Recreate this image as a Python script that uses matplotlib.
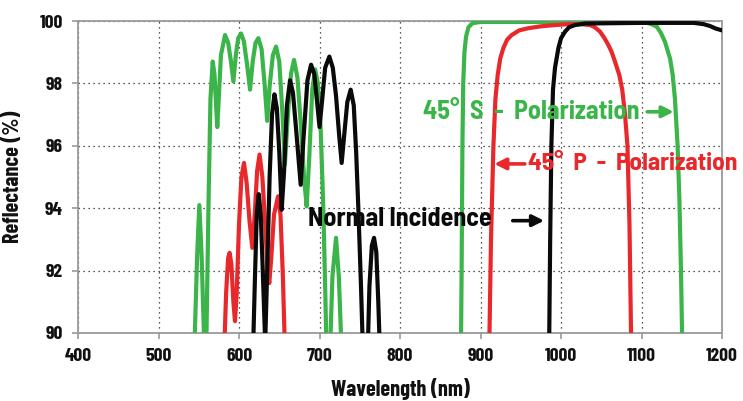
import matplotlib
matplotlib.use("Agg")
import matplotlib.pyplot as plt

plt.rcParams['font.family'] = ['Barlow Condensed', 'DejaVu Sans']
plt.rcParams['font.weight'] = 'bold'
ANN_FONT = ['Barlow Semi Condensed', 'Barlow Condensed', 'DejaVu Sans']

# ---- data ----
# 45 deg S-polarization (green)
s_wl = [544, 548, 550.7, 553.5, 557.5,
        559, 562, 564.5, 567.3, 569.5, 571.5, 573, 574.8, 577.5, 582.6, 586.5, 590, 593,
        596, 599, 602.5, 606, 610, 613.7, 617, 620.5, 624, 628, 632, 635, 638, 642, 646,
        650, 654, 657, 660.5, 664.5, 668.3, 672.5, 677, 681, 684, 687, 691, 694.5, 698,
        701.5, 704.7, 707, 709,
        712.5, 716, 720.5, 724, 728,
        875.5, 876.5, 877.5, 878.5, 880, 882, 885, 890, 900, 1000, 1100, 1106, 1112, 1119,
        1124, 1129, 1135.4, 1138.7, 1141.5, 1144.8, 1147, 1149, 1151]
s_r = [89.0, 92.5, 94.1, 92.5, 89.0,
       89.0, 94.0, 97.5, 98.7, 98.3, 97.3, 96.6, 97.5, 98.9, 99.55, 99.3, 98.7, 98.06,
       98.9, 99.45, 99.6, 99.35, 98.6, 97.8, 98.7, 99.3, 99.45, 99.1, 97.9, 96.8, 97.9, 98.9, 99.18,
       98.7, 97.0, 95.4, 96.9, 98.3, 98.75, 98.2, 96.6, 94.9, 94.06, 95.5, 97.8, 98.45, 98.0,
       96.5, 94.0, 91.5, 89.0,
       89.0, 91.8, 93.05, 91.8, 89.0,
       89.0, 92.0, 96.0, 98.0, 99.0, 99.5, 99.8, 99.93, 99.97, 99.97, 99.97, 99.95, 99.9, 99.82,
       99.62, 99.34, 98.8, 98.27, 97.5, 96.0, 94.3, 92.0, 89.0]

# 45 deg P-polarization (red)
p_wl = [581, 584, 586.5, 588.3, 590.5, 593, 595, 597, 600, 603, 606.2, 609.5, 613, 616.5,
        619.5, 622.5, 625.5, 629, 632.5, 635.5, 637.6, 640, 643.5, 648.5, 651.5, 654.5, 657.5,
        910.5, 913, 916, 918.5, 921.3, 924.5, 928.3, 933, 938.7, 948, 959.4, 975, 992.5, 1010,
        1025, 1036, 1042, 1048.4, 1054, 1058.8, 1063, 1067, 1072.4, 1076, 1079.5, 1082.5,
        1085, 1087.5]
p_r = [89.0, 91.3, 92.4, 92.57, 92.2, 91.0, 90.38, 91.2, 93.5, 95.0, 95.45, 94.8, 93.6, 92.73,
       93.8, 95.2, 95.72, 95.0, 93.5, 92.0, 91.6, 92.4, 93.8, 94.38, 93.8, 91.8, 89.0,
       89.0, 93.0, 96.0, 97.5, 98.27, 98.8, 99.13, 99.4, 99.55, 99.7, 99.77, 99.83, 99.87, 99.9,
       99.9, 99.87, 99.8, 99.66, 99.45, 99.23, 99.0, 98.7, 98.27, 97.8, 97.0, 96.0,
       93.5, 89.0]

# Normal incidence (black)
n_wl = [617, 619.5, 622, 624.5, 627, 629.5, 632.5, 635, 638, 641, 644, 647, 650, 653, 656,
        659.5, 663.4, 667, 671, 676.6, 680, 685, 689.5, 693.5, 697, 700, 703, 707, 712.2,
        716.5, 720.5, 724.5, 727.5, 730.5, 734.5, 738.7, 742.5, 745.5, 748.2, 751.5, 754.4,
        759.4, 762, 765, 767.7, 770.5, 773, 775.5,
        985, 986.5, 988, 990, 992.5, 996.7, 1000, 1005, 1010, 1017.4, 1030, 1100, 1165, 1177,
        1185, 1192, 1200]
n_r = [89.0, 91.5, 93.8, 94.45, 93.8, 92.0, 89.7, 92.0, 95.0, 97.0, 97.65, 97.2, 95.8, 93.95,
       95.2, 97.3, 98.1, 97.7, 96.5, 94.75, 96.2, 98.1, 98.6, 98.3, 97.4, 96.6, 97.4, 98.5, 98.86,
       98.5, 97.6, 96.3, 95.45, 96.3, 97.4, 97.8, 97.3, 95.8, 94.0, 91.5, 89.0,
       89.0, 91.5, 92.8, 93.05, 92.6, 91.0, 89.0,
       89.0, 93.0, 96.0, 97.8, 98.5, 99.13, 99.45, 99.66, 99.8, 99.87, 99.92, 99.94, 99.94, 99.9,
       99.84, 99.76, 99.7]

x_ticks = [400, 500, 600, 700, 800, 900, 1000, 1100, 1200]
y_ticks = [90, 92, 94, 96, 98, 100]

GREEN = '#3bb44a'
RED = '#e8282b'
BLACK = '#0a0a0a'

fig = plt.figure(figsize=(7.43, 4.01), dpi=100)
ax = fig.add_axes([0.105, 0.1696, 0.8668, 0.778])

lw = 3.0
ax.plot(s_wl, s_r, color=GREEN, lw=lw, solid_joinstyle='round', solid_capstyle='round', zorder=3)
ax.plot(p_wl, p_r, color=RED, lw=lw, solid_joinstyle='round', solid_capstyle='round', zorder=4)
ax.plot(n_wl, n_r, color=BLACK, lw=lw, solid_joinstyle='round', solid_capstyle='round', zorder=5)

ax.set_xlim(400, 1200)
ax.set_ylim(90, 100)
ax.set_xticks(x_ticks)
ax.set_yticks(y_ticks)
ax.set_xticklabels([str(v) for v in x_ticks])
ax.set_yticklabels([str(v) for v in y_ticks])

ax.grid(True, color='#222222', linestyle=(0, (1, 3)), linewidth=0.9, zorder=1)
for sp in ax.spines.values():
    sp.set_color('#9a9a9a')
    sp.set_linewidth(1.3)
ax.tick_params(axis='both', colors='#9a9a9a', direction='out', length=4, width=1.2,
               labelcolor='#111111', labelsize=14)
ax.tick_params(axis='x', pad=7)
ax.tick_params(axis='y', pad=7)
for lab in ax.get_xticklabels() + ax.get_yticklabels():
    lab.set_fontweight('bold')

ax.set_xlabel('Wavelength (nm)', fontsize=16, fontweight='bold', color='#111111', labelpad=9)
ax.set_ylabel('Reflectance (%)', fontsize=16, fontweight='bold', color='#111111', labelpad=12)

# annotations
ann_size = 18.8
ax.text(828.6, 97.09, '45°  S  -  Polarization', color=GREEN, fontsize=ann_size, fontweight='bold',
        family=ANN_FONT, va='center', ha='left', zorder=6)
ax.annotate('', xy=(1140, 97.09), xytext=(1107, 97.09),
            arrowprops=dict(arrowstyle='-|>', color=GREEN, lw=2.6, mutation_scale=17,
                            shrinkA=0, shrinkB=0), zorder=6)

ax.annotate('', xy=(917, 95.42), xytext=(955, 95.42),
            arrowprops=dict(arrowstyle='-|>', color=RED, lw=2.6, mutation_scale=17,
                            shrinkA=0, shrinkB=0), zorder=6)
ax.text(958.5, 95.42, '45°  P  -  Polarization', color=RED, fontsize=18.2, fontweight='bold',
        family=ANN_FONT, va='center', ha='left', zorder=6, clip_on=False)

ax.text(685.7, 93.66, 'Normal Incidence', color=BLACK, fontsize=ann_size, fontweight='bold',
        family=ANN_FONT, va='center', ha='left', zorder=6)
ax.annotate('', xy=(979, 93.6), xytext=(940, 93.6),
            arrowprops=dict(arrowstyle='-|>', color=BLACK, lw=2.6, mutation_scale=17,
                            shrinkA=0, shrinkB=0), zorder=6)

fig.savefig('out.png', dpi=100)
